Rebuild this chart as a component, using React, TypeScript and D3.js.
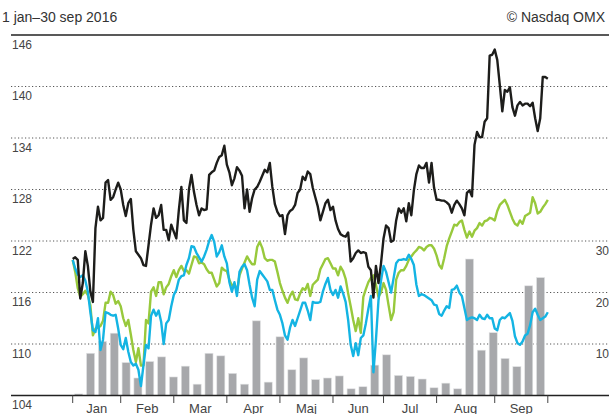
import React from "react";
import * as d3 from "d3";

const W = 609;
const H = 414;

const title = "1 jan–30 sep 2016";
const source = "© Nasdaq OMX";

const months = ["Jan", "Feb", "Mar", "Apr", "Maj", "Jun", "Jul", "Aug", "Sep"];
const tradingDaysPerMonth = [19, 21, 21, 21, 21, 20, 21, 23, 21];

const leftTicks = [146, 140, 134, 128, 122, 116, 110, 104];
const rightTicks = [30, 20, 10];

// Index (black)
const blackSeries = [
  119.9, 120.1, 119.8, 115.3, 117.1, 120.8, 119.1, 116.1, 114.9, 123.5,
  126.0, 124.4, 124.7, 128.8, 129.1, 126.8, 127.1, 128.0, 128.8, 128.0,
  126.2, 124.9, 126.4, 126.9, 123.3, 120.8, 120.4, 120.0, 119.2, 119.1,
  121.5, 123.9, 125.8, 124.7, 125.0, 126.2, 123.3, 123.3, 122.1, 123.9,
  123.1, 122.3, 125.6, 128.3, 124.4, 124.1, 128.0, 129.7, 127.7, 126.2,
  125.0, 125.8, 125.6, 125.7, 129.7, 130.0, 130.2, 131.1, 131.8, 132.0,
  133.1, 130.9, 130.0, 128.5, 129.3, 130.6, 130.2, 129.6, 125.8, 128.0,
  125.4, 127.0, 128.0, 128.3, 128.9, 129.6, 130.3, 130.0, 131.1, 128.3,
  126.3, 125.4, 124.9, 125.0, 122.8, 125.0, 125.5, 125.7, 126.2, 127.6,
  128.0, 129.5, 129.1, 130.1, 129.8, 128.2, 127.1, 126.0, 124.4, 125.4,
  126.4, 126.8, 125.6, 126.0, 124.4, 123.4, 122.8, 122.6, 122.5, 123.0,
  119.6, 120.0, 120.6, 120.9, 120.6, 120.7, 120.6, 119.0, 118.6, 115.4,
  119.1, 117.1, 119.4, 122.3, 123.8, 123.5, 121.9, 122.1, 124.4, 125.8,
  125.3, 125.8, 124.3, 126.4, 125.0, 127.9, 129.8, 130.8, 130.5, 130.5,
  131.1, 128.8, 131.1, 128.2, 126.8, 126.8, 126.7, 126.7, 126.5, 126.2,
  125.3, 126.2, 126.7, 126.3, 125.8, 125.0, 127.6, 127.9, 127.2, 133.2,
  134.7, 134.1, 134.1, 135.9, 136.3, 143.6, 143.7, 144.3, 143.1, 140.2,
  137.1, 139.6, 139.4, 139.9, 137.6, 136.6, 137.8, 138.2, 137.8, 138.0,
  138.0, 137.7, 138.1, 136.3, 134.8, 136.3, 141.1, 141.1, 140.9,
];

const greenSeries = [
  119.8, 118.4, 116.5, 115.5, 115.8, 116.2, 115.7, 114.5, 111.0, 111.8,
  111.9, 112.1, 112.7, 114.8, 114.8, 116.1, 115.7, 114.7, 115.0, 114.4,
  113.0, 112.1, 112.8, 111.1, 109.3, 107.9, 109.5, 107.5, 107.5, 112.8,
  112.4, 116.1, 116.6, 115.6, 117.2, 117.2, 115.8, 116.6, 117.0, 117.9,
  118.6, 117.8, 118.6, 119.1, 118.5, 118.6, 118.2, 119.2, 120.2, 120.1,
  119.4, 119.5, 119.3, 118.7, 118.3, 118.3, 117.5, 116.7, 117.1, 118.9,
  118.6, 118.5, 117.5, 116.8, 117.0, 116.1, 118.0, 118.8, 119.5, 120.2,
  119.7, 119.3, 119.3, 121.3, 121.9, 121.2, 120.0, 119.7, 119.8, 119.8,
  119.6, 118.4, 117.1, 116.2, 115.4, 114.8, 115.6, 116.1, 115.2, 115.1,
  115.9, 116.5, 116.3, 117.0, 115.6, 116.9, 117.2, 117.5, 118.7, 119.3,
  119.9, 120.0, 119.4, 118.8, 118.8, 118.0, 119.0, 118.5, 117.6, 115.9,
  114.4, 112.8, 111.5, 113.0, 111.3, 115.5, 116.4, 117.2, 117.7, 118.0,
  116.9, 115.5, 116.0, 117.1, 116.3, 114.5, 112.8, 113.7, 117.5, 118.3,
  118.6, 118.6, 119.1, 119.8, 120.2, 120.6, 120.9, 121.3, 121.2, 120.9,
  121.3, 121.5, 121.5, 121.1, 120.3, 119.2, 118.8, 120.0, 121.4, 122.3,
  123.1, 123.9, 123.8, 124.2, 124.4, 123.3, 122.4, 123.1, 122.5, 123.2,
  123.5, 124.1, 123.8, 124.3, 124.4, 124.7, 124.6, 124.4, 125.5, 126.2,
  126.5, 126.8, 126.2, 125.4, 124.6, 124.0, 123.8, 124.4, 124.0, 124.9,
  125.1, 125.3, 127.1, 126.4, 125.2, 125.4, 125.9, 126.3, 126.8,
];

const blueSeries = [
  119.8, 118.8, 118.1, 117.8, 118.0, 117.4, 116.1, 113.7, 111.6, 111.4,
  113.0, 109.3, 110.5, 113.7, 113.6, 113.4, 113.3, 113.4, 111.8, 109.9,
  109.4, 110.7, 109.1, 107.9, 107.5, 107.7, 107.0, 105.1, 107.5, 109.9,
  109.5, 113.3, 114.0, 113.3, 113.9, 112.6, 110.0, 112.4, 112.8, 114.4,
  115.7, 116.3, 117.5, 117.9, 118.0, 119.2, 120.0, 121.4, 121.3, 120.6,
  120.1, 119.6, 120.2, 121.0, 122.0, 122.7, 121.9, 120.2, 120.7, 121.5,
  120.2, 119.4, 117.2, 116.1, 117.2, 115.6, 118.4, 119.0, 119.3, 118.6,
  116.9, 115.4, 114.4, 117.5, 118.5, 118.1, 117.7, 117.3, 116.3, 116.3,
  115.1, 114.0, 113.4, 112.4, 111.0, 110.5, 111.9, 112.8, 112.1, 113.0,
  113.9, 114.8, 114.8, 113.9, 112.8, 114.9, 114.8, 114.8, 114.9, 116.1,
  117.0, 117.7, 116.3, 115.7, 116.3, 115.4, 116.7, 115.9, 114.9, 112.8,
  109.9, 108.6, 110.1, 108.7, 110.7, 111.0, 112.4, 114.1, 115.6, 106.7,
  110.5, 115.1, 117.4, 119.1, 118.4, 117.2, 116.0, 117.7, 119.4, 119.8,
  119.8, 119.9, 119.8, 120.4, 119.9, 119.2, 116.9, 115.6, 115.8, 115.7,
  115.5, 115.3, 115.1, 114.6, 114.5, 113.5, 113.3, 113.9, 114.4, 114.2,
  116.3, 116.4, 116.8, 116.0, 115.6, 114.2, 112.8, 113.0, 113.1, 113.0,
  112.8, 113.4, 113.0, 112.9, 113.4, 113.0, 113.0, 111.8, 111.6, 112.8,
  113.1, 113.0, 113.3, 113.6, 112.7, 110.9, 110.1, 109.9, 110.3, 111.0,
  111.2, 112.2, 113.7, 114.1, 113.4, 112.8, 113.0, 113.2, 113.7,
];

// weekly volume (right axis)
const volumes = [
  0.3, 8.2, 10.5, 12.1, 6.4, 3.4, 6.6, 7.5, 3.6, 5.7,
  2.2, 8.2, 7.7, 4.3, 2.2, 14.5, 2.6, 11.4, 5.0, 7.3,
  3.1, 3.4, 3.8, 1.3, 1.7, 5.9, 7.9, 3.9, 3.7, 3.2,
  1.5, 2.4, 1.3, 26.5, 8.8, 12.2, 7.2, 5.6, 21.3, 22.9,
];

const FONT = "'Liberation Sans', Arial, Helvetica, sans-serif";

export default function App() {
  const plotLeft = 72.7;
  const plotRight = 547.8;
  const axisLeft = 11;
  const axisRight = 609;
  const top = 35;
  const bottom = 395.5;

  const totalDays = d3.sum(tradingDaysPerMonth);
  const x = d3.scaleLinear().domain([0, totalDays]).range([plotLeft, plotRight]);
  const y = d3.scaleLinear().domain([104, 146]).range([bottom, top]);
  const yRight = d3.scaleLinear().domain([0, 30]).range([bottom, y(122)]);
  const xBar = d3
    .scaleBand<number>()
    .domain(volumes.map((_, i) => i))
    .range([72.8, 546.5])
    .paddingInner(0.32)
    .paddingOuter(0.16);

  const boundaries = [0, ...d3.cumsum(tradingDaysPerMonth)];

  const line = d3
    .line<number>()
    .x((_, i) => x(i))
    .y((d) => y(d));

  return (
    <svg
      width={W}
      height={H}
      style={{ position: "absolute", left: 0, top: 0, background: "#fff" }}
      fontFamily={FONT}
    >
      <text x={2} y={22} fontSize={14} fill="#333">
        {title}
      </text>
      <text x={605} y={22} fontSize={14} fill="#333" textAnchor="end">
        {source}
      </text>

      {/* gridlines */}
      {leftTicks
        .filter((t) => t !== 146 && t !== 104)
        .map((t) => (
          <line
            key={"g" + t}
            x1={axisLeft}
            x2={axisRight}
            y1={y(t)}
            y2={y(t)}
            stroke="#555"
            strokeWidth={1}
            strokeDasharray="1.2 2.3"
          />
        ))}

      {/* volume bars */}
      {volumes.map((v, i) => (
        <rect
          key={"b" + i}
          x={xBar(i)}
          width={xBar.bandwidth()}
          y={yRight(v)}
          height={bottom - yRight(v)}
          fill="#a7a8ab"
          stroke="#e2e3e4"
          strokeWidth={0.6}
        />
      ))}

      {/* lines */}
      <path d={line(greenSeries) || ""} fill="none" stroke="#98c93c" strokeWidth={2.4} strokeLinejoin="round" />
      <path d={line(blueSeries) || ""} fill="none" stroke="#14b4e3" strokeWidth={2.4} strokeLinejoin="round" />
      <path d={line(blackSeries) || ""} fill="none" stroke="#1d1d1b" strokeWidth={2.4} strokeLinejoin="round" />

      {/* top rule and bottom axis */}
      <line x1={axisLeft} x2={axisRight} y1={top} y2={top} stroke="#222" strokeWidth={1.5} />
      <line x1={axisLeft} x2={axisRight} y1={bottom} y2={bottom} stroke="#222" strokeWidth={1.5} />

      {/* left labels */}
      {leftTicks.map((t) => (
        <text key={"l" + t} x={12} y={y(t) + 13.5} fontSize={12} fill="#444">
          {t}
        </text>
      ))}
      {/* right labels */}
      {rightTicks.map((t) => (
        <text key={"r" + t} x={609} y={yRight(t) + 14} fontSize={12} fill="#444" textAnchor="end">
          {t}
        </text>
      ))}

      {/* month ticks */}
      {boundaries.map((b, i) => (
        <line key={"t" + i} x1={x(b)} x2={x(b)} y1={bottom} y2={bottom + 7.5} stroke="#444" strokeWidth={1} />
      ))}
      {months.map((m, i) => (
        <text
          key={"m" + m}
          x={(x(boundaries[i]) + x(boundaries[i + 1])) / 2}
          y={413}
          fontSize={13}
          fill="#444"
          textAnchor="middle"
        >
          {m}
        </text>
      ))}
    </svg>
  );
}
